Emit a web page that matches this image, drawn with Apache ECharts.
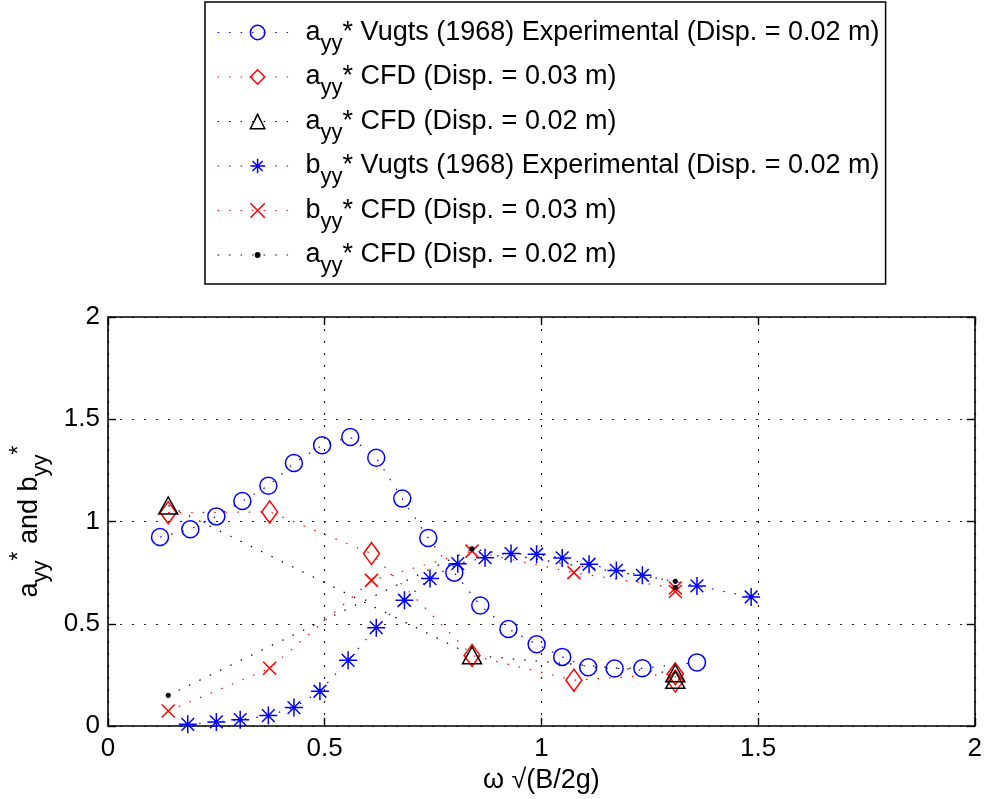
<!DOCTYPE html>
<html>
<head>
<meta charset="utf-8">
<script src="https://cdn.jsdelivr.net/npm/echarts@6/dist/echarts.min.js"></script>
<style>
  html, body { margin: 0; padding: 0; background: #fff; }
  #chart { width: 985px; height: 799px; }
</style>
</head>
<body>
<div id="chart"></div>
<script>
// Vugts (1968) experimental added-mass coefficient a_yy*
const aVugtsX = [0.120, 0.190, 0.250, 0.310, 0.370, 0.429, 0.494, 0.559, 0.619, 0.679,
                 0.739, 0.799, 0.859, 0.924, 0.989, 1.048, 1.108, 1.169, 1.233, 1.359];
const aVugtsY = [0.924, 0.962, 1.025, 1.100, 1.175, 1.286, 1.373, 1.413, 1.312, 1.112,
                 0.919, 0.750, 0.589, 0.474, 0.400, 0.338, 0.287, 0.281, 0.282, 0.311];

// Vugts (1968) experimental damping coefficient b_yy*
const bVugtsX = [0.184, 0.250, 0.305, 0.370, 0.429, 0.489, 0.554, 0.619, 0.684, 0.743,
                 0.807, 0.870, 0.930, 0.989, 1.048, 1.110, 1.173, 1.233, 1.359, 1.484];
const bVugtsY = [0.008, 0.020, 0.031, 0.051, 0.090, 0.170, 0.321, 0.481, 0.615, 0.721,
                 0.794, 0.823, 0.843, 0.840, 0.822, 0.791, 0.761, 0.737, 0.685, 0.631];

// CFD, displacement 0.03 m
const cfd03X = [0.139, 0.373, 0.608, 0.840, 1.075, 1.309, 1.309];
const aCfd03Y = [1.043, 1.047, 0.843, 0.345, 0.224, 0.255, 0.220];
const bCfd03Y = [0.073, 0.282, 0.712, 0.855, 0.750, 0.675, 0.658];

// CFD, displacement 0.02 m
const cfd02X = [0.139, 0.840, 1.309, 1.309];
const aCfd02Y = [1.078, 0.346, 0.258, 0.226];
const bCfd02Y = [0.150, 0.866, 0.708, 0.677];

// Axis ticks
const xTicks = { min: 0, max: 2, interval: 0.5 };
const yTicks = { min: 0, max: 2, interval: 0.5 };

const BLUE = '#0000ff', RED = '#ff0000', BLACK = '#000000';
const FONT = "'Liberation Sans', Arial, Helvetica, sans-serif";

const pairs = (xs, ys) => xs.map((x, i) => [x, ys[i]]);

// Marker shapes
const ASTERISK = 'path://M0,-10L0,10M-10,0L10,0M-7.07,-7.07L7.07,7.07M-7.07,7.07L7.07,-7.07';
const CROSS = 'path://M-7,-7L7,7M-7,7L7,-7';
const DOT = 'path://M-10,-10M10,10M0,-3A3,3,0,1,1,0,3A3,3,0,1,1,0,-3Z';

const legendText = {
  aVugts: '{m|a}{s|yy}{m|* Vugts (1968) Experimental (Disp. = 0.02 m)}',
  aCfd03: '{m|a}{s|yy}{m|* CFD (Disp. = 0.03 m)}',
  aCfd02: '{m|a}{s|yy}{m|* CFD (Disp. = 0.02 m)}',
  bVugts: '{m|b}{s|yy}{m|* Vugts (1968) Experimental (Disp. = 0.02 m)}',
  bCfd03: '{m|b}{s|yy}{m|* CFD (Disp. = 0.03 m)}',
  bCfd02: '{m|a}{s|yy}{m|* CFD (Disp. = 0.02 m)}'
};

function lineSeries(name, data, color, symbol, size, filled) {
  return {
    name: name,
    type: 'line',
    data: data,
    symbol: symbol,
    symbolSize: size,
    showAllSymbol: true,
    animation: false,
    lineStyle: { color: color, width: 1.2, type: [1.5, 10], cap: 'butt' },
    itemStyle: {
      color: filled ? color : 'rgba(0,0,0,0)',
      borderColor: color,
      borderWidth: filled ? 0 : 1.5
    },
    emphasis: { disabled: true }
  };
}

const chart = echarts.init(document.getElementById('chart'), null, { renderer: 'canvas' });

const axisLabelStyle = { fontFamily: FONT, fontSize: 26, color: BLACK };

chart.setOption({
  backgroundColor: '#ffffff',
  animation: false,
  textStyle: { fontFamily: FONT, color: BLACK },
  grid: { left: 107, right: 9, top: 317, bottom: 73, show: false },
  legend: {
    orient: 'vertical',
    left: 205,
    top: 2,
    padding: [17, 6, 7, 12],
    itemGap: 9,
    itemWidth: 80,
    itemHeight: 18,
    backgroundColor: '#ffffff',
    borderColor: BLACK,
    borderWidth: 1.5,
    selectedMode: false,
    itemStyle: { borderWidth: 1.5 },
    lineStyle: { width: 1.2 },
    formatter: name => legendText[name],
    textStyle: {
      fontFamily: FONT,
      color: BLACK,
      padding: [0, 0, 0, 3],
      rich: {
        m: { fontFamily: FONT, fontSize: 27, lineHeight: 44, verticalAlign: 'middle', color: BLACK },
        s: { fontFamily: FONT, fontSize: 22, lineHeight: 20, verticalAlign: 'bottom', color: BLACK }
      }
    },
    data: ['aVugts', 'aCfd03', 'aCfd02', 'bVugts', 'bCfd03', 'bCfd02']
  },
  xAxis: [{
    type: 'value',
    position: 'bottom',
    min: xTicks.min, max: xTicks.max, interval: xTicks.interval,
    name: 'ω √(B/2g)',
    nameLocation: 'middle',
    nameGap: 31,
    nameTextStyle: { fontFamily: FONT, fontSize: 27, color: BLACK },
    axisLine: { show: true, onZero: false, lineStyle: { color: BLACK, width: 1.6 } },
    axisTick: { show: true, inside: true, length: 8, lineStyle: { color: BLACK, width: 1.4 } },
    axisLabel: Object.assign({ margin: 10 }, axisLabelStyle),
    splitLine: { show: true, lineStyle: { color: '#222', width: 1.2, type: [2, 10] } }
  }, {
    type: 'value',
    position: 'top',
    min: xTicks.min, max: xTicks.max, interval: xTicks.interval,
    axisLine: { show: true, onZero: false, lineStyle: { color: BLACK, width: 1.6 } },
    axisTick: { show: true, inside: true, length: 8, lineStyle: { color: BLACK, width: 1.4 } },
    axisLabel: { show: false },
    splitLine: { show: false }
  }],
  yAxis: [{
    type: 'value',
    position: 'left',
    min: yTicks.min, max: yTicks.max, interval: yTicks.interval,
    name: '{m|a}{s|yy}{p|*}{m| and b}{s|yy}{p|*}',
    nameLocation: 'middle',
    nameGap: 56,
    nameRotate: 90,
    nameTextStyle: {
      fontFamily: FONT,
      color: BLACK,
      rich: {
        m: { fontFamily: FONT, fontSize: 27, lineHeight: 44, verticalAlign: 'middle', color: BLACK },
        s: { fontFamily: FONT, fontSize: 22, lineHeight: 20, verticalAlign: 'bottom', color: BLACK },
        p: { fontFamily: FONT, fontSize: 23, lineHeight: 22, verticalAlign: 'top', color: BLACK }
      }
    },
    axisLine: { show: true, onZero: false, lineStyle: { color: BLACK, width: 1.6 } },
    axisTick: { show: true, inside: true, length: 8, lineStyle: { color: BLACK, width: 1.4 } },
    axisLabel: Object.assign({ margin: 8 }, axisLabelStyle),
    splitLine: { show: true, lineStyle: { color: '#222', width: 1.2, type: [2, 10] } }
  }, {
    type: 'value',
    position: 'right',
    min: yTicks.min, max: yTicks.max, interval: yTicks.interval,
    axisLine: { show: true, onZero: false, lineStyle: { color: BLACK, width: 1.6 } },
    axisTick: { show: true, inside: true, length: 8, lineStyle: { color: BLACK, width: 1.4 } },
    axisLabel: { show: false },
    splitLine: { show: false }
  }],
  series: [
    lineSeries('aVugts', pairs(aVugtsX, aVugtsY), BLUE, 'circle', 17, false),
    lineSeries('aCfd03', pairs(cfd03X, aCfd03Y), RED, 'diamond', [16, 22], false),
    lineSeries('aCfd02', pairs(cfd02X, aCfd02Y), BLACK, 'triangle', [19, 17], false),
    lineSeries('bVugts', pairs(bVugtsX, bVugtsY), BLUE, ASTERISK, 18, false),
    lineSeries('bCfd03', pairs(cfd03X, bCfd03Y), RED, CROSS, 13, false),
    lineSeries('bCfd02', pairs(cfd02X, bCfd02Y), BLACK, DOT, 17, true)
  ]
});
</script>
</body>
</html>
